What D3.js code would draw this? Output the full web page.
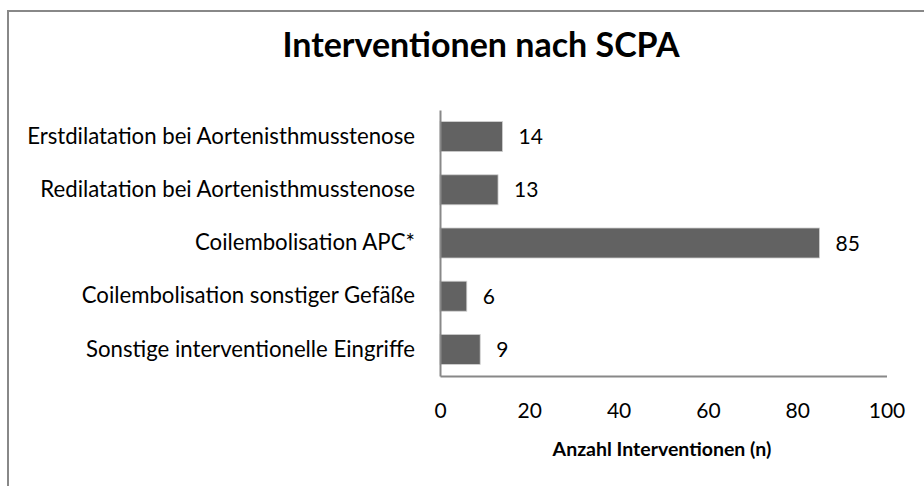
<!DOCTYPE html>
<html>
<head>
<meta charset="utf-8">
<script src="https://cdn.jsdelivr.net/npm/d3@7"></script>
<style>
  body { margin: 0; background: #fff; }
  svg { display: block; font-family: Lato, "Open Sans", sans-serif; }
</style>
</head>
<body>
<div id="chart"></div>
<script>
const categories = [
  'Erstdilatation bei Aortenisthmusstenose',
  'Redilatation bei Aortenisthmusstenose',
  'Coilembolisation APC*',
  'Coilembolisation sonstiger Gefäße',
  'Sonstige interventionelle Eingriffe'
];
const values = [14, 13, 85, 6, 9];
const xTicks = [0, 20, 40, 60, 80, 100];
const title = 'Interventionen nach SCPA';
const xTitle = 'Anzahl Interventionen (n)';

const width = 924, height = 486;
const plot = { left: 440, right: 886.5, top: 110, bottom: 376 };

const svg = d3.select('#chart').append('svg')
  .attr('width', width)
  .attr('height', height);

// chart frame (runs off the right/bottom edge like the original)
svg.append('rect')
  .attr('x', 8).attr('y', 11)
  .attr('width', 940).attr('height', 500)
  .attr('fill', 'none')
  .attr('stroke', '#888')
  .attr('stroke-width', 2);

svg.append('text')
  .attr('x', 481).attr('y', 57)
  .attr('text-anchor', 'middle')
  .attr('font-size', 34)
  .attr('font-weight', 'bold')
  .text(title);

const x = d3.scaleLinear().domain([0, 100]).range([plot.left, plot.right]);
const y = d3.scaleBand().domain(categories)
  .range([plot.top, plot.bottom])
  .paddingInner(0.436).paddingOuter(0.218);

// bars
svg.append('g').selectAll('rect')
  .data(values)
  .join('rect')
  .attr('x', x(0))
  .attr('y', (d, i) => y(categories[i]))
  .attr('width', d => x(d) - x(0))
  .attr('height', y.bandwidth())
  .attr('fill', '#626262')
  .attr('stroke', '#d0d0d0')
  .attr('stroke-width', 0.8);

// value labels
svg.append('g').selectAll('text')
  .data(values)
  .join('text')
  .attr('x', d => x(d) + 16)
  .attr('y', (d, i) => y(categories[i]) + y.bandwidth() / 2)
  .attr('dy', '0.36em')
  .attr('font-size', 21)
  .text(d => d);

// x axis
const xAxis = svg.append('g')
  .attr('transform', `translate(0,${plot.bottom})`)
  .call(d3.axisBottom(x).tickValues(xTicks).tickSize(0).tickPadding(27));
xAxis.select('.domain').attr('stroke', '#888').attr('stroke-width', 2);
xAxis.selectAll('text').attr('font-size', 21).attr('fill', '#000')
  .style('font-family', 'Lato, "Open Sans", sans-serif');

// y axis
const yAxis = svg.append('g')
  .attr('transform', `translate(${plot.left},0)`)
  .call(d3.axisLeft(y).tickSize(0).tickPadding(25));
yAxis.select('.domain').attr('stroke', '#888').attr('stroke-width', 2);
yAxis.selectAll('text').attr('font-size', 22.2).attr('fill', '#000')
  .style('font-family', 'Lato, "Open Sans", sans-serif');

svg.append('text')
  .attr('x', 662).attr('y', 456)
  .attr('text-anchor', 'middle')
  .attr('font-size', 19.5)
  .attr('font-weight', 'bold')
  .text(xTitle);
</script>
</body>
</html>
